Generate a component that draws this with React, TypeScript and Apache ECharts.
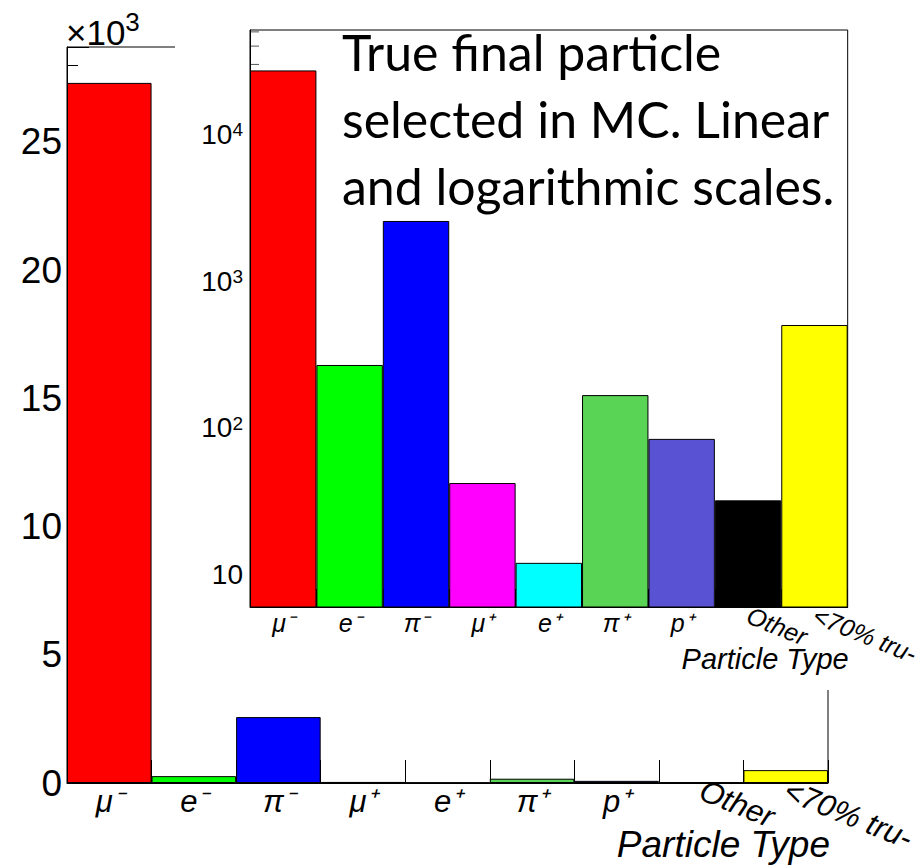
import React, { useEffect, useRef } from 'react';
import * as echarts from 'echarts';

const categories = ['μ⁻', 'e⁻', 'π⁻', 'μ⁺', 'e⁺', 'π⁺', 'p⁺', 'Other', '<70% tru-'];
const counts = [27300, 268, 2570, 42, 12, 167, 84, 32, 502];
const barColors = ['#ff0000', '#00ff00', '#0000ff', '#ff00ff', '#00ffff', '#59d454', '#5953d4', '#000000', '#ffff00'];
const linearMax = 28700;
const linearInterval = 5000;
const linearUnitExp = 3;
const logMin = 6;
const logMax = 51500;
const logMinorTicks = [7, 8, 9, 20, 30, 40, 50, 60, 70, 80, 90, 200, 300, 400, 500, 600, 700, 800, 900, 2000, 3000, 4000, 5000, 6000, 7000, 8000, 9000, 20000, 30000, 40000, 50000];
const rotatedFrom = 7;
const noteLines = ['True final particle', 'selected in MC. Linear', 'and logarithmic scales.'];
const axisTitle = 'Particle Type';

const FONT = '"Liberation Sans", Arial, Helvetica, sans-serif';
const NOTE_FONT = 'Lato, "Open Sans", sans-serif';

function buildOption() {
  const barData = counts.map((v, i) => ({ value: v, itemStyle: { color: barColors[i] } }));
  const labelBase = (size: number) => ({
    interval: 0,
    fontFamily: FONT,
    fontStyle: 'italic',
    fontSize: size,
    color: '#000',
  });
  const sup = (size: number, supSize: number) => ({
    b: { fontFamily: FONT, fontSize: size, color: '#000', verticalAlign: 'bottom' },
    s: { fontFamily: FONT, fontSize: supSize, color: '#000', verticalAlign: 'top' },
  });
  const unit = Math.pow(10, linearUnitExp);
  return {
    animation: false,
    backgroundColor: '#ffffff',
    grid: [
      { left: 67, top: 47, width: 761, height: 736, show: true, borderColor: '#000', borderWidth: 1, backgroundColor: 'transparent', z: 0 },
      { left: 250, top: 30, width: 599, height: 577, show: true, borderColor: '#000', borderWidth: 1, backgroundColor: '#fff', z: 6 },
    ],
    xAxis: [
      {
        type: 'category', gridIndex: 0, data: categories, position: 'bottom', z: 1,
        axisLine: { show: true, lineStyle: { color: '#000', width: 1 } },
        axisTick: { show: true, inside: true, length: 23, lineStyle: { color: '#000' } },
        axisLabel: { ...labelBase(31), margin: 3, formatter: (v: string, i: number) => (i < rotatedFrom ? v : '') },
        name: axisTitle, nameLocation: 'end', nameGap: 2,
        nameTextStyle: { fontFamily: FONT, fontStyle: 'italic', fontSize: 37, color: '#000', align: 'right', verticalAlign: 'top', padding: [43, 0, 0, 0] },
      },
      {
        type: 'category', gridIndex: 0, data: categories, position: 'bottom', z: 1,
        axisLine: { show: false }, axisTick: { show: false },
        axisLabel: { ...labelBase(31), margin: 6, rotate: -22, formatter: (v: string, i: number) => (i >= rotatedFrom ? v : '') },
      },
      {
        type: 'category', gridIndex: 1, data: categories, position: 'bottom', z: 7,
        axisLine: { show: true, lineStyle: { color: '#000', width: 1 } },
        axisTick: { show: true, inside: true, length: 18, lineStyle: { color: '#000' } },
        axisLabel: { ...labelBase(25), margin: 3, formatter: (v: string, i: number) => (i < rotatedFrom ? v : '') },
        name: axisTitle, nameLocation: 'end', nameGap: 1,
        nameTextStyle: { fontFamily: FONT, fontStyle: 'italic', fontSize: 29, color: '#000', align: 'right', verticalAlign: 'top', padding: [37, 0, 0, 0] },
      },
      {
        type: 'category', gridIndex: 1, data: categories, position: 'bottom', z: 7,
        axisLine: { show: false }, axisTick: { show: false },
        axisLabel: { ...labelBase(25), margin: 7, rotate: -22, formatter: (v: string, i: number) => (i >= rotatedFrom ? v : '') },
      },
    ],
    yAxis: [
      {
        type: 'value', gridIndex: 0, min: 0, max: linearMax, interval: linearInterval, z: 1,
        axisLine: { show: true, lineStyle: { color: '#000', width: 1 } },
        axisTick: { show: true, inside: true, length: 22, lineStyle: { color: '#000' } },
        minorTick: { show: true, splitNumber: 5, length: 11, lineStyle: { color: '#000' } },
        splitLine: { show: false },
        axisLabel: { margin: 5, fontFamily: FONT, fontSize: 37, color: '#000', showMaxLabel: false, formatter: (v: number) => String(v / unit) },
      },
      {
        type: 'log', gridIndex: 1, logBase: 10, min: logMin, max: logMax, z: 7,
        axisLine: { show: true, lineStyle: { color: '#000', width: 1 } },
        axisTick: { show: true, inside: true, length: 18, lineStyle: { color: '#000' } },
        splitLine: { show: false },
        axisLabel: {
          margin: 7, showMinLabel: false, showMaxLabel: false,
          formatter: (v: number) => {
            const e = Math.round(Math.log10(v));
            return e === 1 ? '{b|10}' : `{b|10}{s|${e}}`;
          },
          rich: sup(28, 19),
        },
      },
    ],
    series: [
      {
        type: 'bar', xAxisIndex: 0, yAxisIndex: 0, data: barData, barCategoryGap: '0%', z: 2,
        itemStyle: { borderColor: '#000', borderWidth: 1 },
      },
      {
        type: 'custom', xAxisIndex: 2, yAxisIndex: 1, z: 7, silent: true,
        data: logMinorTicks.map((v) => [0, v]),
        renderItem: (params: any, api: any) => {
          const y = api.coord([0, api.value(1)])[1];
          const x0 = params.coordSys.x;
          return { type: 'line', shape: { x1: x0, y1: y, x2: x0 + 9, y2: y }, style: { stroke: '#555', lineWidth: 1 } };
        },
      },
      {
        type: 'bar', xAxisIndex: 2, yAxisIndex: 1, data: barData, barCategoryGap: '0%', z: 8,
        itemStyle: { borderColor: '#000', borderWidth: 1 },
      },
    ],
    graphic: [
      { type: 'rect', z: 5, silent: true, shape: { x: 175, y: 0, width: 760, height: 690 }, style: { fill: '#fff' } },
      {
        type: 'text', z: 9, x: 342, y: 18,
        style: { text: noteLines.join('\n'), fontFamily: NOTE_FONT, fontSize: 50, lineHeight: 67, fill: '#000', textVerticalAlign: 'top' },
      },
      {
        type: 'text', z: 9, x: 66, y: 50,
        style: {
          text: `{b|×10}{s|${linearUnitExp}}`,
          textVerticalAlign: 'bottom',
          rich: {
            b: { fontFamily: FONT, fontSize: 35, fill: '#000', color: '#000', verticalAlign: 'bottom' },
            s: { fontFamily: FONT, fontSize: 26, fill: '#000', color: '#000', verticalAlign: 'bottom', padding: [0, 0, 15, 0] },
          },
        },
      },
    ],
  };
}

export default function App() {
  const ref = useRef<HTMLDivElement>(null);
  useEffect(() => {
    if (!ref.current) return;
    const chart = echarts.init(ref.current, null, { renderer: 'svg' });
    chart.setOption(buildOption() as any);
    return () => chart.dispose();
  }, []);
  return <div ref={ref} style={{ position: 'absolute', left: 0, top: 0, width: 923, height: 868 }} />;
}
